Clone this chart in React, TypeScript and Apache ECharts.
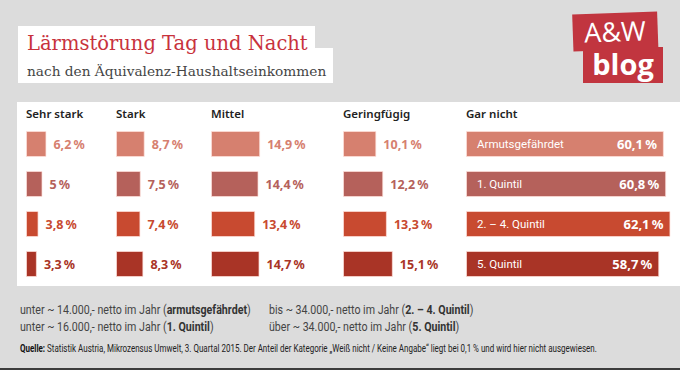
import React, { useEffect, useRef } from "react";
import * as echarts from "echarts";

// ---- data ----
const categories = ["Armutsgefährdet", "1. Quintil", "2. – 4. Quintil", "5. Quintil"];
const columnNames = ["Sehr stark", "Stark", "Mittel", "Geringfügig", "Gar nicht"];
const sehrStark = [6.2, 5, 3.8, 3.3];
const stark = [8.7, 7.5, 7.4, 8.3];
const mittel = [14.9, 14.4, 13.4, 14.7];
const geringfuegig = [10.1, 12.2, 13.3, 15.1];
const garNicht = [60.1, 60.8, 62.1, 58.7];
const rowColors = ["#d6806f", "#b5615b", "#c84a30", "#a93426"];
const footerLines = [
  ["unter ~ 14.000,- netto im Jahr (", "armutsgefährdet", ")"],
  ["unter ~ 16.000,- netto im Jahr (", "1. Quintil", ")"],
  ["bis ~ 34.000,- netto im Jahr (", "2. – 4. Quintil", ")"],
  ["über ~ 34.000,- netto im Jahr (", "5. Quintil", ")"],
];
const sourceLabel = "Quelle:";
const sourceText =
  " Statistik Austria, Mikrozensus Umwelt, 3. Quartal 2015. Der Anteil der Kategorie „Weiß nicht / Keine Angabe“ liegt bei 0,1 % und wird hier nicht ausgewiesen.";

const fmt = (v: number) => String(v).replace(".", ",") + "\u2009%";

const PX = 3.3; // px per percent
const COL_X = [26, 116, 211, 343, 466];
const COL_MAX = [25, 25, 35, 35, 65];
const VALUE_FONT = "'Noto Sans', sans-serif";
const NARROW = "'Roboto', sans-serif";

export default function App() {
  const ref = useRef<HTMLDivElement>(null);
  useEffect(() => {
    if (!ref.current) return;
    const chart = echarts.init(ref.current, undefined, { renderer: "svg" });
    const columnsData = [sehrStark, stark, mittel, geringfuegig, garNicht];

    const grid = COL_X.map((x, i) => ({
      left: x,
      top: 124,
      height: 160,
      width: COL_MAX[i] * PX,
      containLabel: false,
    }));
    const xAxis = COL_MAX.map((m, i) => ({
      type: "value",
      gridIndex: i,
      min: 0,
      max: m,
      show: false,
    }));
    const yAxis = COL_MAX.map((_, i) => ({
      type: "category",
      gridIndex: i,
      data: categories,
      inverse: true,
      show: false,
    }));

    const series: any[] = [];
    columnsData.forEach((arr, i) => {
      const isLast = i === columnsData.length - 1;
      series.push({
        type: "bar",
        name: columnNames[i],
        xAxisIndex: i,
        yAxisIndex: i,
        barWidth: 26,
        barGap: "-100%",
        data: arr.map((v, r) => ({
          value: v,
          itemStyle: { color: rowColors[r], borderColor: "rgba(255,225,220,0.7)", borderWidth: 1 },
          label: { color: isLast ? "#ffffff" : rowColors[r] },
        })),
        label: isLast
          ? {
              show: true,
              position: "insideLeft",
              distance: 11,
              formatter: (p: any) => p.name,
              fontFamily: NARROW,
              fontSize: 11.5,
              fontWeight: "normal",
            }
          : {
              show: true,
              position: "right",
              distance: 7,
              formatter: (p: any) => fmt(p.value),
              fontFamily: VALUE_FONT,
              fontSize: 12.5,
              fontWeight: "bold",
            },
      });
      if (isLast) {
        series.push({
          type: "bar",
          name: columnNames[i] + " Wert",
          xAxisIndex: i,
          yAxisIndex: i,
          barWidth: 26,
          barGap: "-100%",
          itemStyle: { color: "rgba(0,0,0,0)" },
          data: arr,
          label: {
            show: true,
            position: "insideRight",
            distance: 7,
            formatter: (p: any) => fmt(p.value),
            color: "#ffffff",
            fontFamily: VALUE_FONT,
            fontSize: 13,
            fontWeight: "bold",
          },
        });
      }
    });

    const graphic: any[] = [
      { type: "rect", z: -10, shape: { x: 17, y: 102, width: 663, height: 184 }, style: { fill: "#ffffff" } },
      { type: "rect", z: -10, shape: { x: 0, y: 368, width: 680, height: 2 }, style: { fill: "#3c3c3c" } },
      {
        type: "polygon",
        z: -10,
        shape: { points: [[18, 26], [315, 26], [315, 48], [333, 48], [333, 83], [18, 83]] },
        style: { fill: "#ffffff" },
      },
      {
        type: "text",
        x: 27,
        y: 53,
        style: {
          text: "Lärmstörung Tag und Nacht",
          fill: "#c8323d",
          font: "19.5px 'DejaVu Serif', serif",
          textVerticalAlign: "bottom",
        },
      },
      {
        type: "text",
        x: 27,
        y: 71,
        style: {
          text: "nach den Äquivalenz-Haushaltseinkommen",
          fill: "#454545",
          font: "13.7px 'DejaVu Serif', serif",
          textVerticalAlign: "middle",
        },
      },
      // logo
      {
        type: "rect",
        shape: { x: 573, y: 13, width: 85, height: 37 },
        rotation: 0.035,
        originX: 615,
        originY: 31,
        style: { fill: "#c1353f" },
      },
      {
        type: "rect",
        shape: { x: 583, y: 47, width: 80, height: 36 },
        style: { fill: "#c1353f" },
      },
      {
        type: "text",
        x: 615,
        y: 31,
        rotation: 0.035,
        style: {
          text: "A&W",
          fill: "#ffffff",
          font: "27px 'Open Sans', sans-serif",
          textAlign: "center",
          textVerticalAlign: "middle",
        },
      },
      {
        type: "text",
        x: 623,
        y: 63,
        style: {
          text: "blog",
          fill: "#ffffff",
          font: "bold 29px 'Open Sans', sans-serif",
          textAlign: "center",
          textVerticalAlign: "middle",
        },
      },
    ];

    columnNames.forEach((n, i) => {
      graphic.push({
        type: "text",
        x: COL_X[i],
        y: 113,
        style: {
          text: n,
          fill: "#222222",
          font: "600 11.5px 'Noto Sans', sans-serif",
          textVerticalAlign: "middle",
        },
      });
    });

    footerLines.forEach((parts, i) => {
      const x = i < 2 ? 20 : 269;
      const y = i % 2 === 0 ? 310 : 327;
      graphic.push({
        type: "text",
        x,
        y,
        scaleX: 0.82,
        style: {
          text: parts[0] + "{b|" + parts[1] + "}" + parts[2],
          fill: "#444444",
          font: "13px " + NARROW,
          textVerticalAlign: "middle",
          rich: { b: { fontWeight: "bold", fontFamily: NARROW, fontSize: 13, fill: "#333333" } },
        },
      });
    });

    graphic.push({
      type: "text",
      x: 20,
      y: 349,
      scaleX: 0.8,
      style: {
        text: "{b|" + sourceLabel + "}" + sourceText,
        fill: "#222222",
        font: "10px " + NARROW,
        textVerticalAlign: "middle",
        rich: { b: { fontWeight: "bold", fontFamily: NARROW, fontSize: 10, fill: "#111111" } },
      },
    });

    chart.setOption({
      animation: false,
      backgroundColor: "#dcdcdc",
      grid,
      xAxis,
      yAxis,
      series,
      graphic,
    } as any);
    return () => chart.dispose();
  }, []);
  return (
    <div
      ref={ref}
      style={{ position: "absolute", left: 0, top: 0, width: 680, height: 370 }}
    />
  );
}
